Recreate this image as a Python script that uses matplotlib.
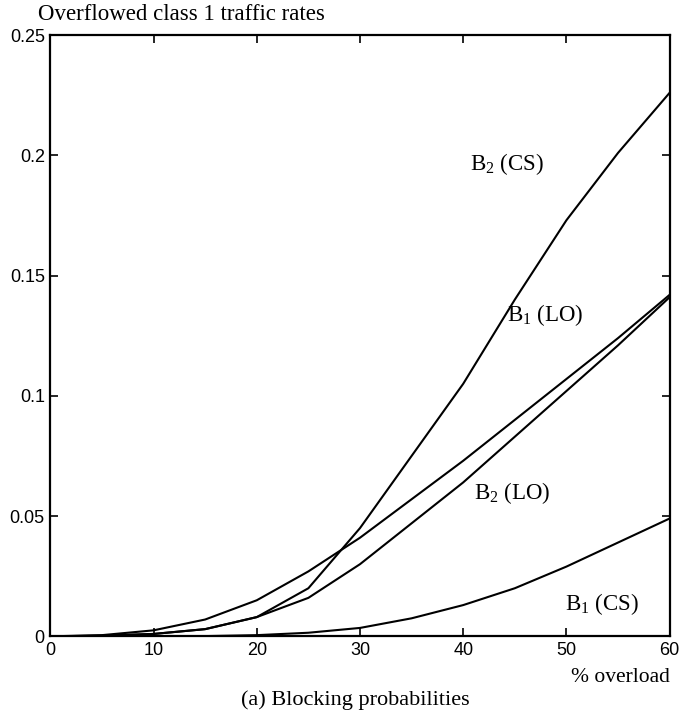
import matplotlib.pyplot as plt
import numpy as np

overload = [0, 5, 10, 15, 20, 25, 30, 35, 40, 45, 50, 55, 60]
b2_cs = [0, 0.0003, 0.001, 0.003, 0.008, 0.020, 0.045, 0.075, 0.105, 0.140, 0.173, 0.201, 0.226]
b1_lo = [0, 0.0005, 0.0025, 0.007, 0.015, 0.027, 0.041, 0.057, 0.073, 0.090, 0.107, 0.124, 0.142]
b2_lo = [0, 0.0002, 0.001, 0.003, 0.008, 0.016, 0.030, 0.047, 0.064, 0.083, 0.102, 0.121, 0.141]
b1_cs = [0, 0, 0, 0.0001, 0.0005, 0.0015, 0.0035, 0.0075, 0.013, 0.020, 0.029, 0.039, 0.049]

xticks = [0, 10, 20, 30, 40, 50, 60]
yticks = [0, 0.05, 0.1, 0.15, 0.2, 0.25]
ytick_labels = ["0", "0.05", "0.1", "0.15", "0.2", "0.25"]

serif = "Liberation Serif"
sans = "Liberation Sans"
plt.rcParams["mathtext.fontset"] = "custom"
plt.rcParams["mathtext.rm"] = serif
plt.rcParams["mathtext.it"] = serif

fig = plt.figure(figsize=(6.99, 7.15), dpi=100)
ax = fig.add_axes([0.072, 0.110, 0.886, 0.841])

for ys in (b2_cs, b1_lo, b2_lo, b1_cs):
    ax.plot(overload, ys, color="black", lw=1.5)

ax.set_xlim(0, 60)
ax.set_ylim(0, 0.25)
ax.set_xticks(xticks)
ax.set_yticks(yticks)
ax.set_yticklabels(ytick_labels)
ax.tick_params(direction="in", length=6, width=1.2, top=True, right=True,
               labelsize=13, pad=4)
for lab in ax.get_xticklabels() + ax.get_yticklabels():
    lab.set_family(sans)
for s in ax.spines.values():
    s.set_linewidth(1.6)

lbl = dict(fontsize=16.5, family=serif, color="black")
ax.text(40.7, 0.194, r"B$_\mathrm{2}$ (CS)", **lbl)
ax.text(44.2, 0.131, r"B$_\mathrm{1}$ (LO)", **lbl)
ax.text(41.0, 0.057, r"B$_\mathrm{2}$ (LO)", **lbl)
ax.text(49.9, 0.011, r"B$_\mathrm{1}$ (CS)", **lbl)

fig.text(38 / 699, 1 - 14 / 715, "Overflowed class 1 traffic rates",
         family=serif, fontsize=16.5, va="center", ha="left")
fig.text(670 / 699, 1 - 678 / 715, "% overload",
         family=serif, fontsize=15.5, va="center", ha="right")
fig.text(355 / 699, 1 - 700 / 715, "(a) Blocking probabilities",
         family=serif, fontsize=16, va="center", ha="center")

fig.savefig("out.png", dpi=100)
